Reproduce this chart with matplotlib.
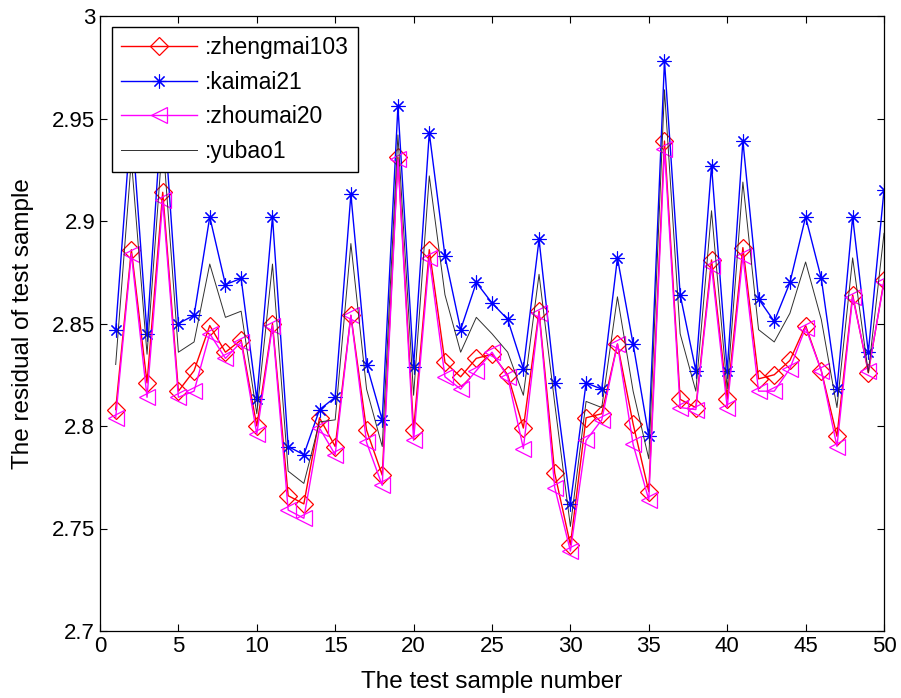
import matplotlib
matplotlib.use("Agg")
import matplotlib.pyplot as plt
import numpy as np

plt.rcParams['font.family'] = ['Liberation Sans', 'DejaVu Sans']

sample = np.arange(1, 51)

zhengmai103 = [2.808, 2.886, 2.821, 2.914, 2.817, 2.827, 2.849, 2.836, 2.842, 2.800,
               2.850, 2.766, 2.762, 2.804, 2.790, 2.854, 2.798, 2.776, 2.931, 2.798,
               2.886, 2.831, 2.824, 2.833, 2.835, 2.825, 2.799, 2.856, 2.777, 2.742,
               2.804, 2.806, 2.840, 2.801, 2.768, 2.939, 2.813, 2.809, 2.881, 2.813,
               2.887, 2.823, 2.825, 2.832, 2.849, 2.827, 2.795, 2.864, 2.826, 2.871]

kaimai21 = [2.847, 2.950, 2.845, 2.960, 2.850, 2.854, 2.902, 2.869, 2.872, 2.813,
            2.902, 2.790, 2.786, 2.808, 2.814, 2.913, 2.830, 2.803, 2.956, 2.829,
            2.943, 2.883, 2.847, 2.870, 2.860, 2.852, 2.828, 2.891, 2.821, 2.762,
            2.821, 2.818, 2.882, 2.840, 2.795, 2.978, 2.864, 2.827, 2.927, 2.827,
            2.939, 2.862, 2.851, 2.870, 2.902, 2.872, 2.818, 2.902, 2.836, 2.915]

zhoumai20 = [2.804, 2.884, 2.814, 2.910, 2.814, 2.817, 2.845, 2.833, 2.841, 2.796,
             2.849, 2.759, 2.755, 2.799, 2.786, 2.854, 2.792, 2.771, 2.930, 2.793,
             2.882, 2.824, 2.818, 2.827, 2.836, 2.824, 2.789, 2.855, 2.770, 2.739,
             2.793, 2.803, 2.840, 2.791, 2.764, 2.935, 2.809, 2.808, 2.878, 2.809,
             2.883, 2.817, 2.817, 2.828, 2.848, 2.827, 2.790, 2.863, 2.827, 2.870]

yubao1 = [2.830, 2.930, 2.835, 2.940, 2.836, 2.841, 2.879, 2.853, 2.856, 2.806,
          2.879, 2.778, 2.772, 2.802, 2.803, 2.889, 2.818, 2.790, 2.942, 2.815,
          2.922, 2.864, 2.836, 2.853, 2.845, 2.836, 2.815, 2.874, 2.811, 2.751,
          2.812, 2.809, 2.863, 2.817, 2.784, 2.964, 2.845, 2.817, 2.905, 2.818,
          2.919, 2.847, 2.841, 2.855, 2.880, 2.852, 2.809, 2.882, 2.826, 2.894]

labels = [':zhengmai103', ':kaimai21', ':zhoumai20', ':yubao1']

fig = plt.figure(figsize=(9.01, 6.98), dpi=100)
ax = fig.add_axes([100/901, 1 - 631/698, 784/901, 615/698])

ax.plot(sample, zhengmai103, color='#ff0000', lw=1.0, marker='D', ms=9,
        mfc='none', mec='#ff0000', mew=0.9, label=labels[0])
ax.plot(sample, kaimai21, color='#0000ff', lw=1.0, marker=(8, 2, 0), ms=10,
        mec='#0000ff', mew=0.8, label=labels[1])
ax.plot(sample, zhoumai20, color='#ff00ff', lw=1.0, marker='<', ms=11,
        mfc='none', mec='#ff00ff', mew=0.9, label=labels[2])
ax.plot(sample, yubao1, color='#303030', lw=0.7, label=labels[3])

ax.set_xlim(0, 50)
ax.set_ylim(2.7, 3.0)
ax.set_xticks(np.arange(0, 51, 5))
ax.set_yticks(np.arange(2.7, 3.001, 0.05))
ax.set_yticklabels(['2.7', '2.75', '2.8', '2.85', '2.9', '2.95', '3'])
ax.tick_params(direction='in', top=True, right=True, labelsize=16, length=5, width=0.8)
for s in ax.spines.values():
    s.set_linewidth(0.9)

ax.set_xlabel('The test sample number', fontsize=17.5, labelpad=10)
ax.set_ylabel('The residual of test sample', fontsize=17.5, labelpad=13)

leg = ax.legend(loc='upper left', bbox_to_anchor=(12/784, 1 - 11/615), fontsize=16.5,
                fancybox=False, edgecolor='black', framealpha=1, handlelength=3.3,
                borderaxespad=0, labelspacing=0.5, handletextpad=0.35, borderpad=0.4)
leg.get_frame().set_linewidth(1.0)

fig.savefig('out.png', dpi=100)
